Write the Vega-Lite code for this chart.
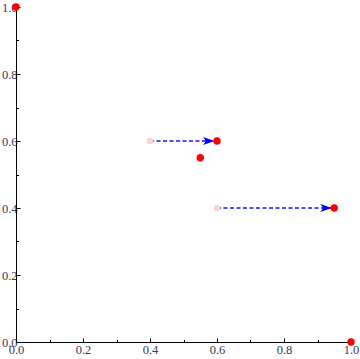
{
  "$schema": "https://vega.github.io/schema/vega-lite/v6.json",
  "width": 335,
  "height": 335,
  "autosize": {"type": "none"},
  "padding": {"left": 16, "top": 7, "right": 9, "bottom": 17},
  "background": "white",
  "config": {
    "view": {"stroke": null},
    "axis": {
      "grid": false,
      "domainColor": "black",
      "domainWidth": 1,
      "tickColor": "black",
      "tickWidth": 1,
      "labelFont": "Liberation Serif",
      "labelFontSize": 12.5,
      "labelColor": "#3a3a5a",
      "title": null,
      "values": [0, 0.05, 0.1, 0.15, 0.2, 0.25, 0.3, 0.35, 0.4, 0.45, 0.5, 0.55, 0.6, 0.65, 0.7, 0.75, 0.8, 0.85, 0.9, 0.95, 1],
      "labelExpr": "abs(round(datum.value*5) - datum.value*5) < 0.001 ? format(datum.value, '.1f') : ''",
      "tickSize": {"condition": {"test": "abs(round(datum.value*5) - datum.value*5) < 0.001", "value": -4}, "value": -2.5},
      "labelOverlap": false,
      "labelFlush": false
    }
  },
  "datasets": {
    "pts": [
      {"x": 0, "y": 1, "kind": "red"},
      {"x": 1, "y": 0, "kind": "red"},
      {"x": 0.6, "y": 0.6, "kind": "red"},
      {"x": 0.55, "y": 0.55, "kind": "red"},
      {"x": 0.95, "y": 0.4, "kind": "red"},
      {"x": 0.4, "y": 0.6, "kind": "pink"},
      {"x": 0.6, "y": 0.4, "kind": "pink"}
    ],
    "arrows": [
      {"x": 0.4, "x2": 0.6, "y": 0.6},
      {"x": 0.6, "x2": 0.95, "y": 0.4}
    ]
  },
  "layer": [
    {
      "data": {"name": "arrows"},
      "mark": {"type": "rule", "color": "#1515f0", "strokeWidth": 1.3, "strokeDash": [4, 2.5]},
      "encoding": {
        "x": {"field": "x", "type": "quantitative", "scale": {"domain": [0, 1], "nice": false}, "axis": {"labelPadding": 5}},
        "x2": {"field": "x2"},
        "y": {"field": "y", "type": "quantitative", "scale": {"domain": [0, 1], "nice": false}, "axis": {"labelPadding": 3}}
      }
    },
    {
      "data": {"name": "pts"},
      "transform": [{"filter": "datum.kind == 'pink'"}],
      "mark": {"type": "point", "filled": true, "color": "#f8d4d4", "opacity": 1, "size": 45},
      "encoding": {
        "x": {"field": "x", "type": "quantitative"},
        "y": {"field": "y", "type": "quantitative"}
      }
    },
    {
      "data": {"name": "arrows"},
      "mark": {"type": "point", "filled": true, "color": "#0000ff", "opacity": 1, "size": 160, "shape": "M-0.4,0 L-2.2,-0.65 L-1.75,0 L-2.2,0.65 Z"},
      "encoding": {
        "x": {"field": "x2", "type": "quantitative"},
        "y": {"field": "y", "type": "quantitative"}
      }
    },
    {
      "data": {"name": "pts"},
      "transform": [{"filter": "datum.kind == 'red'"}],
      "mark": {"type": "point", "filled": true, "color": "#ff0000", "opacity": 1, "size": 55},
      "encoding": {
        "x": {"field": "x", "type": "quantitative"},
        "y": {"field": "y", "type": "quantitative"}
      }
    }
  ]
}
